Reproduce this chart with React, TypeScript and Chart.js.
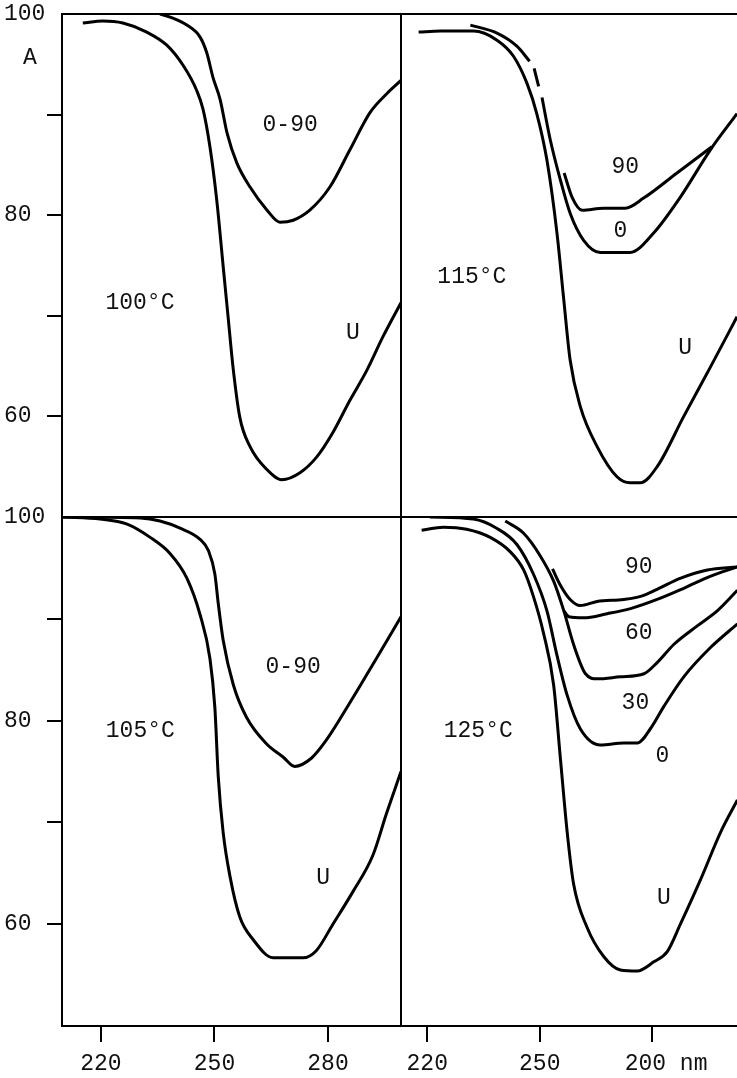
import React, { useEffect, useRef } from "react";
import { Chart, registerables } from "chart.js";

Chart.register(...registerables);

const FONT = '"Liberation Mono", "DejaVu Sans Mono", monospace';
const FONT_SIZE = 23;

// ---- axis ticks ----
const xTickValues = [220, 250, 280];
const xTickLabelsLeft = ["220", "250", "280"];
const xTickLabelsRight = ["220", "250", "  200 nm"];
const yTickValues = [50, 60, 70, 80, 90, 100];
const yTickLabels = ["", "60", "", "80", "", "100"];

// ---- 100 °C panel ----
const u100: [number, number | null][] = [[215.2,99.1],[220.5,99.3],[225.8,99.1],[232.1,98.2],[237.4,96.9],[241.7,94.9],[245.3,92.4],[247.0,90.5],[248.8,86.8],[250.6,81.5],[252.3,74.9],[253.6,69.9],[254.9,64.9],[256.7,59.9],[259.4,57.0],[263.9,54.7],[267.8,53.7],[272.6,54.4],[277.1,56.0],[281.3,58.4],[285.8,61.6],[290.3,64.6],[294.5,67.9],[299.3,71.3]];
const s0to90_100: [number, number | null][] = [[235.6,100],[239.0,99.6],[242.7,98.9],[246.2,97.7],[248.0,96.1],[249.6,93.7],[251.5,91.5],[253.3,88.2],[255.9,85.2],[259.4,82.8],[263.9,80.5],[267.3,79.3],[270.8,79.5],[275.2,80.5],[280.5,82.8],[285.8,86.5],[291.1,90.2],[295.6,92.1],[299.3,93.4]];

// ---- 115 °C panel ----
const u115: [number, number | null][] = [[217.7,98.2],[223.5,98.3],[232.3,98.3],[238.6,97.4],[243.0,95.8],[246.6,93.1],[249.2,90.1],[251.9,85.5],[254.6,78.2],[256.4,71.6],[258.1,65.6],[260.8,61.0],[265.3,57.0],[270.6,54.0],[274.1,53.4],[276.8,53.4],[281.3,55.0],[288.4,60.0],[295.5,64.9],[302.6,69.9]];
const s0_115: [number, number | null][] = [[231.5,98.9],[238.6,98.1],[243.9,96.8],[247.3,95.3],[247.8,null],[248.5,94.6],[249.7,92.8],[250.1,null],[250.6,91.7],[252.8,87.5],[255.5,83.5],[258.1,80.2],[261.7,77.5],[266.1,76.3],[274.1,76.3],[280.3,78.2],[287.5,81.8],[295.5,86.5],[302.6,90.1]];
const s90_115: [number, number | null][] = [[256.5,84.2],[258.6,81.8],[261.3,80.5],[267.0,80.7],[272.8,80.7],[277.7,81.7],[286.6,84.2],[295.9,86.8]];

// ---- 105 °C panel ----
const u105: [number, number | null][] = [[209.9,100],[219.8,99.8],[226.9,99.3],[233.0,98.0],[238.3,96.4],[242.7,94.0],[246.2,90.4],[248.8,86.1],[250.1,81.3],[251.0,74.5],[252.3,69.0],[254.1,64.7],[256.7,60.7],[260.2,58.5],[265.5,56.7],[273.4,56.7],[276.9,57.4],[281.3,60.0],[286.6,63.2],[291.9,66.8],[295.4,70.8],[299.3,75.0]];
const s0to90_105: [number, number | null][] = [[209.9,100],[230.4,99.9],[235.6,99.6],[240.9,98.9],[246.2,97.8],[248.4,96.7],[250.1,94.4],[251.0,91.5],[252.3,87.9],[255.0,83.5],[258.5,80.3],[263.8,77.7],[268.2,76.4],[271.2,75.5],[275.6,76.3],[279.6,78.1],[285.7,81.7],[292.8,86.1],[299.3,90.2]];

// ---- 125 °C panel ----
const u125: [number, number | null][] = [[218.5,98.7],[224.3,99.0],[230.5,98.8],[236.8,98.0],[242.1,96.6],[245.7,94.8],[248.3,92.2],[251.0,88.6],[253.7,83.5],[255.5,76.3],[257.3,69.1],[259.0,64.0],[262.6,59.7],[267.1,56.8],[271.5,55.5],[276.0,55.4],[280.4,56.3],[284.0,57.3],[287.5,60.0],[292.9,64.4],[298.3,69.1],[302.7,72.2]];
const s0_125: [number, number | null][] = [[220.7,100],[232.3,99.8],[238.5,98.9],[243.9,97.3],[248.3,94.4],[251.9,90.8],[254.6,86.4],[257.3,82.5],[260.8,79.2],[266.2,77.6],[272.4,77.8],[276.0,77.8],[279.5,79.2],[283.1,81.4],[288.4,84.3],[295.6,87.2],[302.7,89.5]];
const s30_125: [number, number | null][] = [[240.8,99.6],[245.7,98.4],[250.1,96.2],[253.7,93.7],[256.4,90.8],[259.0,87.5],[262.2,84.6],[265.3,84.1],[271.5,84.3],[277.8,84.6],[281.3,85.7],[285.8,87.5],[292.0,89.3],[297.4,90.8],[302.7,92.8]];
const s60_125: [number, number | null][] = [[256.4,90.8],[257.8,90.2],[261.7,90.1],[268.0,90.5],[274.2,91.0],[281.3,91.9],[288.4,93.0],[295.6,94.2],[302.7,95.1]];
const s90_125: [number, number | null][] = [[253.4,94.9],[255.5,93.3],[258.1,91.9],[260.8,91.3],[265.3,91.7],[272.4,91.9],[276.9,92.2],[281.3,92.9],[287.6,94.0],[294.7,94.8],[302.7,95.1]];

// ---- in-panel labels (text, x in nm, y in %) ----
type Lbl = { text: string; x: number; y: number };
const labels100: Lbl[] = [
  { text: "A", x: 201.2, y: 95.6 },
  { text: "0-90", x: 270.0, y: 89.0 },
  { text: "100°C", x: 230.3, y: 71.3 },
  { text: "U", x: 286.6, y: 68.3 },
];
const labels115: Lbl[] = [
  { text: "90", x: 272.8, y: 84.8 },
  { text: "0", x: 271.5, y: 78.4 },
  { text: "115°C", x: 231.9, y: 73.9 },
  { text: "U", x: 288.8, y: 66.8 },
];
const labels105: Lbl[] = [
  { text: "0-90", x: 270.8, y: 85.3 },
  { text: "105°C", x: 230.4, y: 79.0 },
  { text: "U", x: 278.7, y: 64.5 },
];
const labels125: Lbl[] = [
  { text: "90", x: 276.4, y: 95.1 },
  { text: "60", x: 276.4, y: 88.6 },
  { text: "30", x: 275.5, y: 81.7 },
  { text: "0", x: 282.7, y: 76.5 },
  { text: "125°C", x: 233.6, y: 79.0 },
  { text: "U", x: 283.1, y: 62.6 },
];

const decorPlugin = {
  id: "panelDecor",
  afterDraw(chart: any, _args: any, opts: any) {
    const { ctx, chartArea: a, scales } = chart;
    ctx.save();
    ctx.strokeStyle = "#000";
    ctx.lineWidth = 2;
    ctx.strokeRect(a.left, a.top, a.right - a.left, a.bottom - a.top);
    ctx.fillStyle = "#111";
    ctx.font = `${FONT_SIZE}px ${FONT}`;
    ctx.textAlign = "center";
    ctx.textBaseline = "middle";
    for (const it of opts.labels || []) {
      ctx.fillText(it.text, scales.x.getPixelForValue(it.x), scales.y.getPixelForValue(it.y));
    }
    ctx.restore();
  },
};

type PanelProps = {
  left: number; top: number; width: number; height: number;
  pad: { left: number; right: number; top: number; bottom: number };
  xMin: number; xMax: number;
  series: [number, number | null][][];
  labels: Lbl[];
  showY: boolean;
  xLabels: string[] | null;
};

function Panel(p: PanelProps) {
  const ref = useRef<HTMLCanvasElement>(null);
  useEffect(() => {
    const chart = new Chart(ref.current!, {
      type: "line",
      data: {
        datasets: p.series.map((s) => ({
          data: s.map(([x, y]) => ({ x, y })),
          borderColor: "#000",
          borderWidth: 3,
          pointRadius: 0,
          fill: false,
          spanGaps: false,
          cubicInterpolationMode: "monotone",
        })) as any,
      },
      options: {
        responsive: false,
        animation: false,
        devicePixelRatio: 1,
        layout: { padding: p.pad },
        plugins: {
          legend: { display: false },
          tooltip: { enabled: false },
          panelDecor: { labels: p.labels },
        } as any,
        scales: {
          x: {
            type: "linear",
            min: p.xMin,
            max: p.xMax,
            display: !!p.xLabels,
            afterBuildTicks: (s: any) => { s.ticks = xTickValues.map((v) => ({ value: v })); },
            afterFit: (s: any) => { if (p.xLabels) s.height = 52; },
            grid: { drawOnChartArea: false, drawTicks: true, tickLength: 16, color: "#000", lineWidth: 2 },
            border: { display: false },
            ticks: {
              autoSkip: false,
              maxRotation: 0,
              padding: 8,
              color: "#111",
              font: { family: FONT, size: FONT_SIZE },
              callback: (v: any) => {
                const i = xTickValues.indexOf(Number(v));
                return p.xLabels && i >= 0 ? p.xLabels[i] : "";
              },
            },
          },
          y: {
            type: "linear",
            min: 50,
            max: 100,
            display: p.showY,
            afterBuildTicks: (s: any) => { s.ticks = yTickValues.map((v) => ({ value: v })); },
            afterFit: (s: any) => { if (p.showY) s.width = 58; },
            grid: {
              drawOnChartArea: false,
              drawTicks: true,
              tickLength: 15,
              lineWidth: 2,
              color: (c: any) => (c.tick && (c.tick.value === 100 || c.tick.value === 50) ? "rgba(0,0,0,0)" : "#000"),
            },
            border: { display: false },
            ticks: {
              crossAlign: "far",
              padding: 4,
              color: "#111",
              font: { family: FONT, size: FONT_SIZE },
              callback: (v: any) => {
                const i = yTickValues.indexOf(Number(v));
                return i >= 0 ? yTickLabels[i] : "";
              },
            },
          },
        },
      } as any,
      plugins: [decorPlugin as any],
    });
    return () => chart.destroy();
  }, []);
  return (
    <canvas
      ref={ref}
      width={p.width}
      height={p.height}
      style={{ position: "absolute", left: p.left, top: p.top, width: p.width, height: p.height }}
    />
  );
}

export default function App() {
  return (
    <div style={{ position: "absolute", left: 0, top: 0, width: 737, height: 1078, overflow: "hidden", background: "#fff" }}>
      <Panel left={0} top={-12} width={420} height={552}
        pad={{ left: 4, right: 19, top: 26, bottom: 23 }}
        xMin={209.7} xMax={299.3} series={[u100, s0to90_100]} labels={labels100} showY={true} xLabels={null} />
      <Panel left={380} top={-12} width={380} height={552}
        pad={{ left: 21, right: 3, top: 26, bottom: 23 }}
        xMin={213} xMax={307.93} series={[u115, s0_115, s90_115]} labels={labels115} showY={false} xLabels={null} />
      <Panel left={0} top={495} width={420} height={583}
        pad={{ left: 4, right: 19, top: 22, bottom: 0 }}
        xMin={209.7} xMax={299.3} series={[u105, s0to90_105]} labels={labels105} showY={true} xLabels={xTickLabelsLeft} />
      <Panel left={380} top={495} width={380} height={583}
        pad={{ left: 21, right: 3, top: 22, bottom: 0 }}
        xMin={213} xMax={307.93} series={[u125, s0_125, s30_125, s60_125, s90_125]} labels={labels125} showY={false} xLabels={xTickLabelsRight} />
    </div>
  );
}
